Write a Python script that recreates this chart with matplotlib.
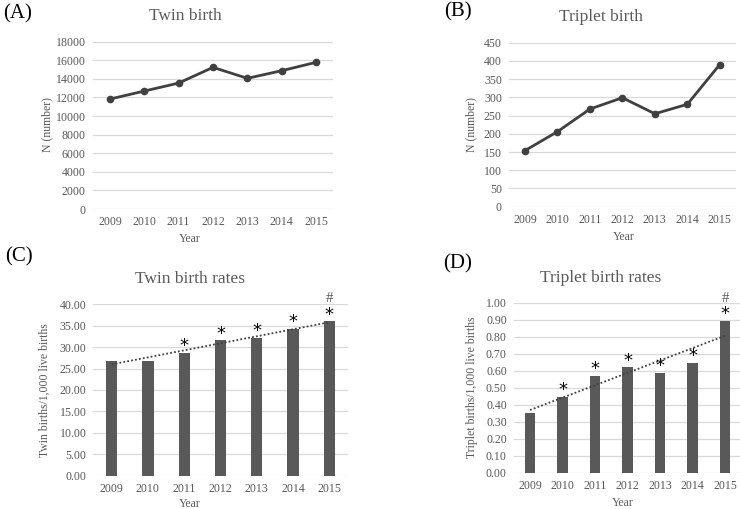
import matplotlib.pyplot as plt
import numpy as np

years = ['2009', '2010', '2011', '2012', '2013', '2014', '2015']
twin_n = [11830, 12690, 13550, 15240, 14060, 14880, 15780]
triplet_n = [154, 206, 268, 299, 255, 281, 390]
twin_rate = [26.8, 26.8, 28.7, 31.6, 32.2, 34.2, 36.0]
triplet_rate = [0.351, 0.445, 0.571, 0.62, 0.586, 0.645, 0.892]
twin_star = [False, False, True, True, True, True, True]
triplet_star = [False, True, True, True, True, True, True]
hash_mark = [False, False, False, False, False, False, True]

W, H = 740, 509
plt.rcParams['font.family'] = ['Liberation Serif', 'DejaVu Serif']
txt = '#595959'
grid = '#d9d9d9'
tick_fs = 8.6
lab_fs = 8.5
title_fs = 12.5

fig = plt.figure(figsize=(W / 100, H / 100), dpi=100)

def px_axes(x0, x1, ytop, ybot):
    return fig.add_axes([x0 / W, 1 - ybot / H, (x1 - x0) / W, (ybot - ytop) / H])

def style(ax, ymax, step, fmt):
    ax.set_xlim(-0.5, len(years) - 0.5)
    ax.set_ylim(0, ymax)
    ticks = np.arange(0, ymax + step / 2, step)
    ax.set_yticks(ticks)
    ax.set_yticklabels([fmt.format(t) for t in ticks])
    ax.set_xticks(range(len(years)))
    ax.set_xticklabels(years)
    for s in ax.spines.values():
        s.set_visible(False)
    ax.grid(axis='y', color=grid, lw=0.9)
    ax.set_axisbelow(True)
    ax.tick_params(length=0, labelsize=tick_fs, colors=txt, pad=5)

def ftext(x, y, s, **kw):
    fig.text(x / W, 1 - y / H, s, ha='center', va='center', **kw)

# (A) twin births
axA = px_axes(92.8, 333.2, 41.7, 209)
axA.plot(range(len(years)), twin_n, color='#404040', lw=2, marker='o', ms=4.5)
style(axA, 18000, 2000, '{:.0f}')
ftext(190, 239, 'Year', fontsize=lab_fs, color=txt)
ftext(47, 125, 'N (number)', fontsize=lab_fs, color=txt, rotation=90)
ftext(185, 16, 'Twin birth', fontsize=title_fs, color=txt)
ftext(18, 14, '(A)', fontsize=15, color='black')

# (B) triplet births
axB = px_axes(508.8, 736, 42.7, 206.7)
axB.plot(range(len(years)), triplet_n, color='#404040', lw=2, marker='o', ms=4.5)
style(axB, 450, 50, '{:.0f}')
ftext(624, 237, 'Year', fontsize=lab_fs, color=txt)
ftext(471, 125, 'N (number)', fontsize=lab_fs, color=txt, rotation=90)
ftext(601, 17, 'Triplet birth', fontsize=title_fs, color=txt)
ftext(458, 12, '(B)', fontsize=15, color='black')

def rate_panel(ax, vals, stars):
    x = np.arange(len(years))
    ax.bar(x, vals, width=0.31, color='#595959')
    k, b = np.polyfit(x, vals, 1)
    ax.plot(x, k * x + b, color='#404040', lw=1.3, ls=(0, (1, 1.2)))
    for i, v in enumerate(vals):
        if stars[i]:
            ax.annotate('*', (i, v), xytext=(0, 1.2), textcoords='offset points',
                        ha='center', va='baseline', fontsize=13, color='black',
                        family='DejaVu Sans')
        if hash_mark[i]:
            ax.annotate('#', (i, v), xytext=(0, 14), textcoords='offset points',
                        ha='center', va='baseline', fontsize=10.5, color=txt)

# (C) twin birth rates
axC = px_axes(93.5, 347.5, 304.3, 475.7)
rate_panel(axC, twin_rate, twin_star)
style(axC, 40, 5, '{:.2f}')
ftext(190, 504, 'Year', fontsize=lab_fs, color=txt)
ftext(45, 390, 'Twin births/1,000 live births', fontsize=lab_fs, color=txt, rotation=90)
ftext(190, 279, 'Twin birth rates', fontsize=title_fs, color=txt)
ftext(19, 257, '(C)', fontsize=15, color='black')

# (D) triplet birth rates
axD = px_axes(513.8, 741.2, 302.7, 472.7)
rate_panel(axD, triplet_rate, triplet_star)
style(axD, 1.0, 0.1, '{:.2f}')
ftext(623, 503, 'Year', fontsize=lab_fs, color=txt)
ftext(472, 387, 'Triplet births/1,000 live births', fontsize=lab_fs, color=txt, rotation=90)
ftext(601, 278, 'Triplet birth rates', fontsize=title_fs, color=txt)
ftext(458, 264, '(D)', fontsize=15, color='black')

fig.savefig('out.png', dpi=100)
